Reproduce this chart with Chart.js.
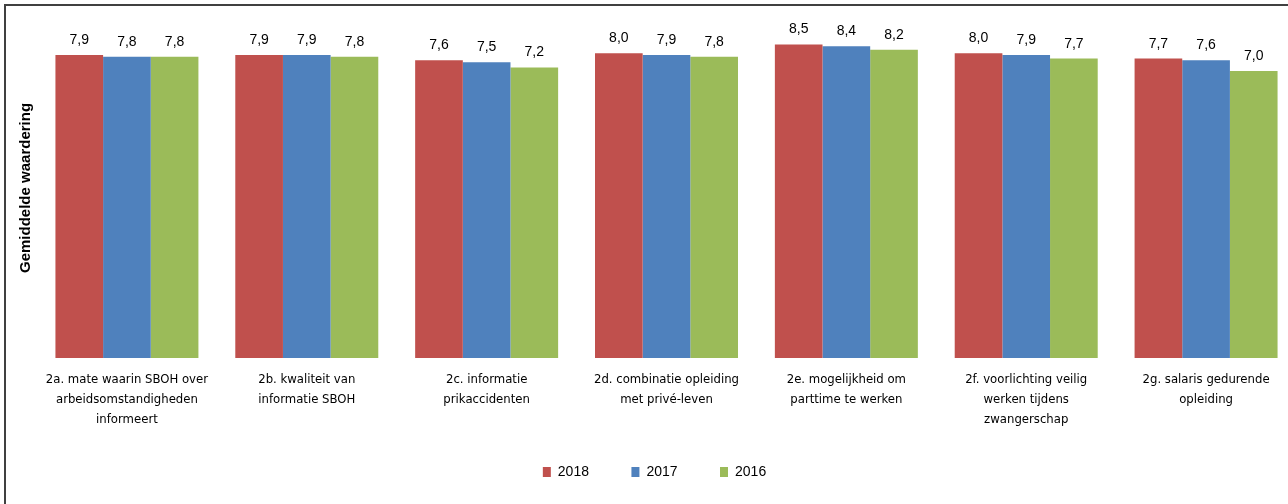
<!DOCTYPE html>
<html>
<head>
<meta charset="utf-8">
<script src="https://cdn.jsdelivr.net/npm/chart.js@4/dist/chart.umd.min.js"></script>
<style>
  html, body { margin: 0; padding: 0; background: #fff; overflow: hidden; width: 1288px; height: 504px; }
  #frame { position: absolute; left: 4px; top: 4px; width: 1400px; height: 600px; border-left: 2px solid #404040; border-top: 2px solid #404040; }
  #chart { position: absolute; left: 0; top: 0; }
</style>
</head>
<body>
<div id="frame"></div>
<canvas id="chart" width="1300" height="504"></canvas>
<script>
var categories = [
  ["2a. mate waarin SBOH over", "arbeidsomstandigheden", "informeert"],
  ["2b. kwaliteit van", "informatie SBOH"],
  ["2c. informatie", "prikaccidenten"],
  ["2d. combinatie opleiding", "met privé-leven"],
  ["2e. mogelijkheid om", "parttime te werken"],
  ["2f. voorlichting veilig", "werken tijdens", "zwangerschap"],
  ["2g. salaris gedurende", "opleiding"]
];
var seriesNames = ["2018", "2017", "2016"];
var values2018 = [7.9, 7.9, 7.6, 8.0, 8.5, 8.0, 7.7];
var values2017 = [7.8, 7.9, 7.5, 7.9, 8.4, 7.9, 7.6];
var values2016 = [7.8, 7.8, 7.2, 7.8, 8.2, 7.7, 7.0];
var colors = ["#C0504D", "#4F81BD", "#9BBB59"];

var axisMin = -9.26;
var axisMax = 10.0;

// value labels above each bar, decimal comma
var valueLabels = {
  id: "valueLabels",
  afterDatasetsDraw: function (chart) {
    var ctx = chart.ctx;
    ctx.save();
    ctx.font = "14px 'Liberation Sans', Arial, sans-serif";
    ctx.fillStyle = "#000";
    ctx.textAlign = "center";
    ctx.textBaseline = "alphabetic";
    chart.data.datasets.forEach(function (ds, i) {
      chart.getDatasetMeta(i).data.forEach(function (bar, j) {
        ctx.fillText(ds.data[j].toFixed(1).replace(".", ","), bar.x, bar.y - 11);
      });
    });
    ctx.restore();
  }
};

var allValues = [values2018, values2017, values2016];
var ctx = document.getElementById("chart").getContext("2d");
var chart = new Chart(ctx, {
  type: "bar",
  data: {
    labels: categories,
    datasets: allValues.map(function (vals, i) {
      return {
        label: seriesNames[i],
        data: vals,
        backgroundColor: colors[i],
        borderWidth: 0,
        base: axisMin,
        categoryPercentage: 0.795,
        barPercentage: 1.0
      };
    })
  },
  options: {
    responsive: false,
    animation: false,
    devicePixelRatio: 1,
    layout: { padding: { left: 13, right: 4, top: 18, bottom: 15 } },
    scales: {
      x: {
        grid: { display: false, drawTicks: false },
        border: { display: false },
        ticks: {
          autoSkip: false,
          maxRotation: 0,
          padding: 12,
          color: "#000",
          font: { family: "'DejaVu Sans Condensed', 'Liberation Sans', sans-serif", size: 13, lineHeight: 1.54 }
        }
      },
      y: {
        min: axisMin,
        max: axisMax,
        grid: { display: false, drawTicks: false },
        border: { display: false },
        ticks: { display: false },
        title: {
          display: true,
          text: "Gemiddelde waardering",
          color: "#000",
          padding: { top: 4, bottom: 2 },
          font: { family: "'Liberation Sans', Arial, sans-serif", size: 15, weight: "bold" }
        }
      }
    },
    plugins: {
      tooltip: { enabled: false },
      legend: {
        position: "bottom",
        labels: {
          boxWidth: 8,
          boxHeight: 10,
          padding: 23,
          color: "#000",
          font: { family: "'Liberation Sans', Arial, sans-serif", size: 14 },
          generateLabels: function (chart) {
            var items = Chart.defaults.plugins.legend.labels.generateLabels(chart);
            items.forEach(function (it, i) {
              if (i < items.length - 1) it.text = it.text + "     ";
            });
            return items;
          }
        }
      }
    }
  },
  plugins: [valueLabels]
});
</script>
</body>
</html>
